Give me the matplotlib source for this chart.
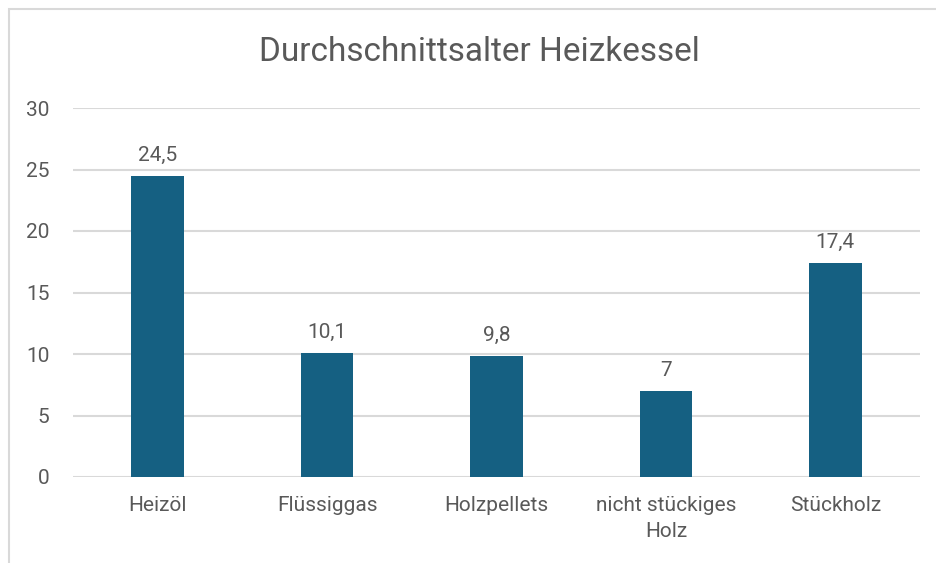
import matplotlib
matplotlib.use("Agg")
import matplotlib.pyplot as plt
import matplotlib.patches as mpatches

plt.rcParams['font.family'] = ['Roboto', 'DejaVu Sans']

categories = ["Heizöl", "Flüssiggas", "Holzpellets", "nicht stückiges\nHolz", "Stückholz"]
values = [24.5, 10.1, 9.8, 7, 17.4]
yticks = [0, 5, 10, 15, 20, 25, 30]

textcol = '#595959'
barcol = '#156082'
gridcol = '#d9d9d9'

fig = plt.figure(figsize=(9.36, 5.63), dpi=100)
# chart border
fig.patches.append(mpatches.Rectangle((9/936, -0.1), 1.1, 1 - 9/563 + 0.1, transform=fig.transFigure,
                                      fill=False, edgecolor=gridcol, linewidth=1.5))
ax = fig.add_axes([73/936, 1 - 477/563, (920 - 73)/936, (477 - 108)/563])

x = list(range(len(categories)))
bars = ax.bar(x, values, width=0.31, color=barcol, zorder=3)
for xi, v in zip(x, values):
    lab = ('%g' % v).replace('.', ',')
    ax.annotate(lab, (xi, v), xytext=(0, 8), textcoords='offset points',
                ha='center', va='bottom', fontsize=15, color=textcol)

ax.set_xlim(-0.5, len(categories) - 0.5)
ax.set_ylim(0, 30)
ax.set_yticks(yticks)
ax.yaxis.grid(True, color=gridcol, linewidth=1.5, zorder=0)
ax.set_axisbelow(True)
for s in ax.spines.values():
    s.set_visible(False)
ax.tick_params(axis='both', length=0, labelsize=15, labelcolor=textcol)
ax.tick_params(axis='y', pad=17)
ax.tick_params(axis='x', pad=14)
ax.set_xticks(x)
ax.set_xticklabels(categories, linespacing=1.45)

fig.text(479/936, 1 - 52/563, "Durchschnittsalter Heizkessel", ha='center', va='center',
         fontsize=24, color=textcol)

fig.savefig("out.png", dpi=100)
